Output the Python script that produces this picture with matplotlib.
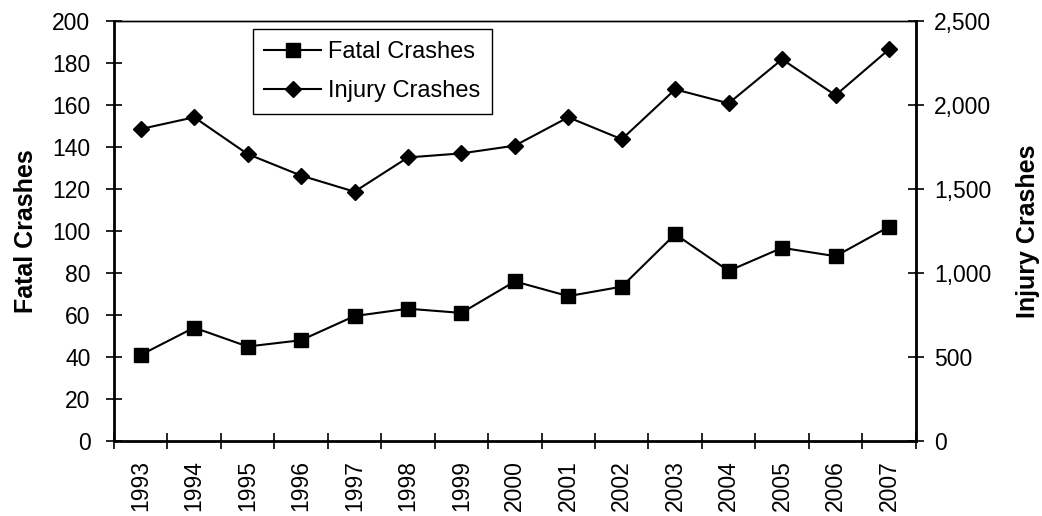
import matplotlib
matplotlib.use("Agg")
import matplotlib.pyplot as plt
from matplotlib.ticker import FuncFormatter, FixedLocator
from matplotlib.lines import Line2D

years = ["1993", "1994", "1995", "1996", "1997", "1998", "1999", "2000",
         "2001", "2002", "2003", "2004", "2005", "2006", "2007"]
fatal = [41, 54, 45, 48, 59.5, 63, 61, 76, 69, 73.5, 98.5, 81, 92, 88, 102]
injury = [1857, 1927, 1708, 1580, 1484, 1688, 1712, 1758, 1927, 1796,
          2093, 2010, 2272, 2058, 2331]

plt.rcParams['font.family'] = ['Liberation Sans', 'DejaVu Sans']
plt.rcParams['font.size'] = 16.5

fig = plt.figure(figsize=(10.42, 5.16), dpi=100)
ax = fig.add_axes([0.1094, 0.1453, 0.7694, 0.8140])
ax2 = ax.twinx()

x = list(range(len(years)))
ax.plot(x, fatal, color='black', lw=1.5, marker='s', markersize=9.5,
        markerfacecolor='black', markeredgecolor='black', zorder=3)
ax2.plot(x, injury, color='black', lw=1.5, marker='D', markersize=8,
         markerfacecolor='black', markeredgecolor='black', zorder=3)

ax.set_xlim(-0.5, len(years) - 0.5)
ax.set_ylim(0, 200)
ax2.set_ylim(0, 2500)
ax.set_yticks(range(0, 201, 20))
ax2.set_yticks(range(0, 2501, 500))
ax2.yaxis.set_major_formatter(FuncFormatter(lambda v, p: f"{int(v):,}"))

ax.xaxis.set_major_locator(FixedLocator([i - 0.5 for i in range(len(years) + 1)]))
ax.set_xticklabels([])
ax.xaxis.set_minor_locator(FixedLocator(x))
ax.set_xticklabels(years, minor=True, rotation=90)
ax.tick_params(axis='x', which='minor', length=0, pad=14)
ax.tick_params(axis='x', which='major', direction='inout', length=12, width=1.2)
ax.tick_params(axis='y', direction='inout', length=12, width=1.2, pad=11)
ax2.tick_params(axis='y', direction='inout', length=12, width=1.2, pad=7)

for a in (ax, ax2):
    for s in a.spines.values():
        s.set_linewidth(1.0)
ax.spines['left'].set_linewidth(2)
ax.spines['bottom'].set_linewidth(2)
ax2.spines['right'].set_linewidth(2)
ax2.spines['left'].set_visible(False)
ax2.spines['bottom'].set_visible(False)

ax.set_ylabel("Fatal Crashes", fontweight='bold', fontsize=18, labelpad=10)
ax2.set_ylabel("Injury Crashes", fontweight='bold', fontsize=18, labelpad=18)

handles = [
    Line2D([], [], color='black', lw=1.5, marker='s', markersize=9.5),
    Line2D([], [], color='black', lw=1.5, marker='D', markersize=8),
]
leg = ax.legend(handles, ["Fatal Crashes", "Injury Crashes"],
                loc='upper left', bbox_to_anchor=(0.173, 0.981),
                borderaxespad=0,
                fancybox=False, framealpha=1, edgecolor='black',
                handlelength=2.4, handletextpad=0.3, borderpad=0.5,
                labelspacing=0.75, fontsize=17)
leg.get_frame().set_linewidth(1.0)

fig.savefig("out.png", dpi=100)
